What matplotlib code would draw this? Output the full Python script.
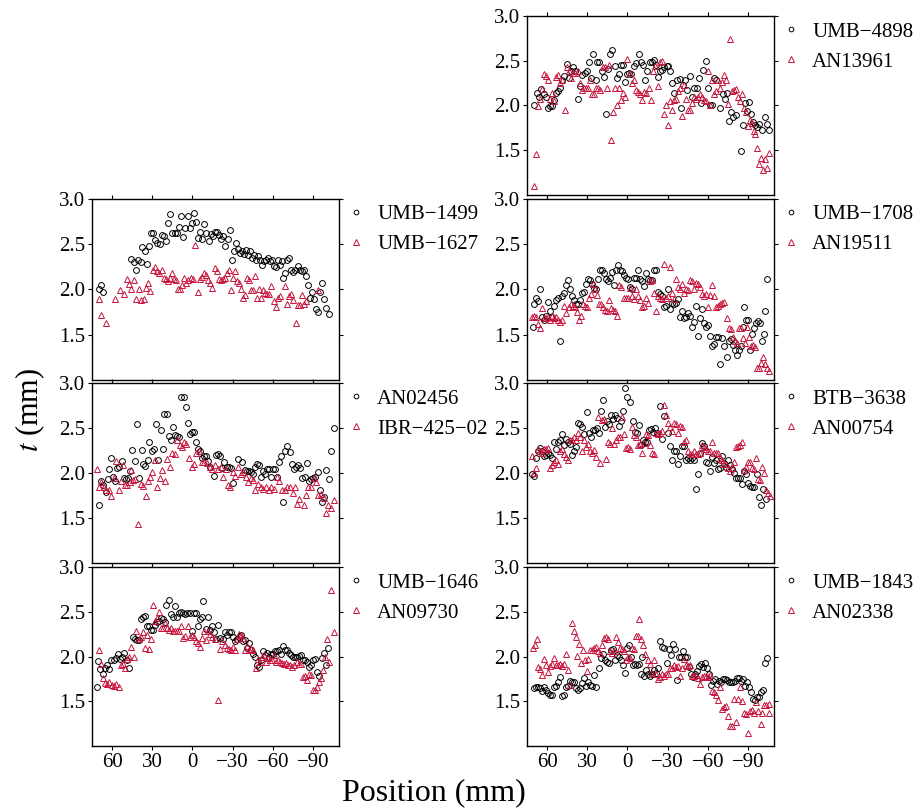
import numpy as np
import matplotlib.pyplot as plt
from matplotlib.ticker import FormatStrFormatter

plt.rcParams['font.family'] = ['Liberation Serif', 'DejaVu Serif']
plt.rcParams['mathtext.fontset'] = 'stix'
plt.rcParams['font.size'] = 15

red = '#c8143c'

# (position [mm], thickness t [mm])

umb1499 = [(70, 2.0), (68.25, 2.05), (66.5, 1.97), (45.5, 2.34), (43.75, 2.30), (42.25, 2.22), (40.5, 2.32),
           (38.75, 2.30), (37.5, 2.47), (35.75, 2.42), (34, 2.28), (32.5, 2.48), (31, 2.62), (29.25, 2.62),
           (27.75, 2.55), (26.25, 2.51), (24.5, 2.50), (23, 2.60), (21.25, 2.59), (19.75, 2.54), (18.25, 2.73),
           (16.5, 2.83), (15, 2.62), (13.25, 2.62), (11.75, 2.62), (10.25, 2.69), (8.5, 2.81), (7, 2.58),
           (5.25, 2.68), (3.5, 2.81), (2, 2.68), (0.5, 2.73), (-1.25, 2.84), (-2.75, 2.75), (-4.5, 2.57),
           (-6, 2.63), (-7.5, 2.56), (-9, 2.72), (-10.5, 2.62), (-12.25, 2.54), (-13.75, 2.61), (-15.25, 2.59),
           (-17, 2.63), (-18.5, 2.63), (-20, 2.60), (-21.5, 2.56), (-23, 2.59), (-24.5, 2.48), (-26.25, 2.56),
           (-27.75, 2.66), (-29.25, 2.32), (-30.75, 2.43), (-32.25, 2.51), (-33.75, 2.45), (-35.25, 2.40),
           (-36.75, 2.42), (-38.25, 2.39), (-39.75, 2.44), (-41.25, 2.38), (-42.75, 2.43), (-44.25, 2.35),
           (-45.75, 2.38), (-47.25, 2.33), (-48.75, 2.37), (-50.25, 2.32), (-51.75, 2.27), (-53.25, 2.31),
           (-54.75, 2.33), (-56.25, 2.35), (-57.75, 2.31), (-59.25, 2.33), (-60.75, 2.26), (-62.25, 2.25),
           (-63.75, 2.32), (-65.25, 2.27), (-66.75, 2.31), (-67.75, 2.13), (-69.25, 2.18), (-70.75, 2.32),
           (-72.25, 2.35), (-73.75, 2.21), (-75.25, 2.19), (-76.75, 2.22), (-78.5, 2.26), (-80, 2.21),
           (-81.5, 2.20), (-83.25, 2.21), (-84.75, 2.15), (-86.5, 2.05), (-88, 1.91), (-89.5, 1.97), (-91, 1.89),
           (-92, 1.78), (-93.5, 1.75), (-95, 1.97), (-96.5, 2.07), (-98, 1.89), (-100, 1.79), (-102, 1.73)]

umb1627 = [(69.5, 1.89), (68, 1.72), (64.5, 1.63), (57.5, 1.89), (54.25, 1.99), (50.75, 1.95), (49, 2.11),
           (47.25, 2.06), (45.75, 2.01), (43.75, 2.10), (42.25, 1.89), (40, 2.01), (38.5, 1.88), (36.5, 1.89),
           (34.5, 2.02), (33, 2.07), (31.5, 1.98), (29.75, 2.21), (28.25, 2.25), (26.5, 2.20), (24.75, 2.18),
           (23, 2.22), (21.5, 2.13), (20, 2.12), (18.25, 2.09), (16.75, 2.13), (15, 2.18), (13.5, 2.11),
           (12, 2.10), (11, 2.01), (9.5, 2.00), (8, 2.05), (6, 2.13), (4.5, 2.07), (3, 2.10), (1, 2.13),
           (-0.5, 2.12), (-2, 2.49), (-4, 1.97), (-6, 2.12), (-7.5, 2.14), (-9, 2.18), (-10.5, 2.16), (-12, 2.10),
           (-13.5, 2.07), (-15, 2.02), (-16.75, 2.24), (-18.25, 2.20), (-19.5, 2.12), (-21, 2.10), (-22.5, 2.11),
           (-24, 2.13), (-25.5, 2.18), (-27.5, 2.22), (-29, 1.99), (-30.5, 2.13), (-32, 2.20), (-33.5, 2.09),
           (-35, 2.07), (-36.5, 2.00), (-38, 1.91), (-39.5, 1.94), (-41, 2.13), (-42.5, 2.10), (-44, 1.99),
           (-45.5, 1.99), (-47, 2.15), (-48.5, 1.91), (-50, 2.00), (-51.5, 1.91), (-53, 1.99), (-54.5, 1.96),
           (-56, 1.95), (-57.5, 1.95), (-59, 2.04), (-61, 1.87), (-62.5, 1.81), (-64, 1.91), (-65.5, 1.93),
           (-69, 2.04), (-70.5, 1.84), (-72, 1.93), (-73.5, 1.95), (-75, 1.88), (-77.5, 1.63), (-79, 1.83),
           (-80.5, 1.83), (-82, 1.94), (-83.5, 1.84), (-85, 1.87), (-93.5, 1.99)]

an02456 = [(70, 1.64), (68.5, 1.91), (66.5, 1.87), (64.75, 1.79), (63.25, 1.93), (62, 2.04), (60.5, 2.17),
           (59, 1.96), (57.5, 1.91), (56, 2.06), (54.5, 2.07), (52.5, 2.13), (51, 1.95), (49.25, 1.93),
           (48, 1.95), (46.25, 2.02), (44.75, 2.26), (43, 2.13), (41.5, 2.54), (39.75, 1.95), (37.75, 2.26),
           (37, 2.10), (35.25, 2.08), (33.5, 2.15), (32.25, 2.35), (30.5, 2.24), (28.75, 2.27), (27.25, 2.55),
           (25.5, 2.15), (23.75, 2.48), (22.25, 2.27), (21, 2.66), (19.25, 2.66), (17.5, 2.41), (16, 2.37),
           (14.5, 2.51), (13, 2.42), (11.5, 2.41), (10, 2.40), (8.5, 2.84), (6.5, 2.85), (5, 2.73), (3.5, 2.56),
           (2, 2.43), (0.5, 2.46), (-1.25, 2.46), (-2.75, 2.35), (-4.25, 2.27), (-6, 2.24), (-7.5, 2.17),
           (-9, 2.19), (-10.5, 2.19), (-12, 2.13), (-13.5, 2.07), (-16, 1.97), (-17.5, 2.20), (-19.25, 2.21),
           (-20.75, 2.19), (-22.25, 2.06), (-23.75, 2.12), (-25.75, 2.07), (-27.5, 2.07), (-29, 2.06),
           (-30.5, 1.89), (-34.25, 2.16), (-37.25, 2.12), (-39, 2.03), (-40.5, 2.02), (-42, 2.02), (-43.5, 2.01),
           (-45, 1.99), (-46.5, 2.07), (-48, 2.10), (-49.5, 2.09), (-51, 1.96), (-52.5, 2.02), (-54, 1.99),
           (-55.5, 2.05), (-57, 2.04), (-58.5, 1.96), (-60, 2.04), (-61.5, 2.05), (-63, 1.96), (-64.5, 2.12),
           (-66, 2.19), (-68, 1.68), (-69.5, 2.25), (-71, 2.30), (-73, 2.23), (-74.5, 2.10), (-76, 2.04),
           (-77.5, 2.07), (-79, 2.09), (-80.5, 2.06), (-82, 1.95), (-84, 1.96), (-85.5, 2.11), (-87, 1.91),
           (-88.5, 1.93), (-90, 1.95), (-91.5, 1.96), (-93.5, 2.01), (-95, 1.81), (-96.5, 1.68), (-98, 1.73),
           (-100, 2.03), (-102, 1.93), (-103.75, 2.25), (-105.5, 2.50)]

ibr425 = [(71.25, 2.04), (69.75, 1.85), (68, 1.90), (66.25, 1.85), (64.5, 1.81), (62.5, 1.81), (60.5, 1.75),
          (58.75, 1.95), (57, 2.13), (55, 1.81), (53.25, 1.91), (51.5, 2.09), (50, 1.87), (48.5, 1.87),
          (46.75, 1.90), (45.5, 2.03), (44, 1.92), (42.5, 1.93), (40.5, 1.43), (38.75, 1.88), (37, 1.86),
          (35, 1.75), (33.5, 1.91), (31.75, 1.96), (30, 2.01), (28, 2.15), (26.25, 1.85), (24.5, 1.95),
          (22.5, 2.03), (20.5, 1.91), (18.75, 2.16), (16.75, 2.07), (15, 2.22), (13, 2.21), (11.25, 2.37),
          (9.5, 2.31), (8, 2.29), (6.5, 2.35), (4.5, 2.32), (2.5, 2.17), (0.5, 2.07), (-1.25, 2.10), (-3, 2.22),
          (-5, 2.25), (-7, 2.12), (-9, 2.12), (-11, 2.11), (-13, 2.07), (-15, 2.05), (-17, 2.09), (-19, 2.04),
          (-21, 2.07), (-23, 1.96), (-25, 2.04), (-26.75, 1.87), (-28.25, 1.84), (-30, 2.01), (-32, 1.97),
          (-34, 2.07), (-36, 1.99), (-38, 2.01), (-40, 1.96), (-41.5, 1.90), (-43.5, 1.95), (-45, 1.92),
          (-47, 1.81), (-49, 1.88), (-51, 1.85), (-53, 1.82), (-55, 1.85), (-57, 1.81), (-59, 1.85), (-61, 1.82),
          (-63, 1.96), (-65, 1.91), (-67, 1.81), (-69, 1.81), (-71, 1.84), (-73, 1.85), (-75, 1.78),
          (-76.5, 1.85), (-78, 1.66), (-79.5, 1.71), (-83, 1.64), (-85, 1.76), (-86.5, 1.84), (-88.5, 1.84),
          (-90.5, 1.94), (-92.5, 1.90), (-94, 1.76), (-96, 1.77), (-98, 1.72), (-100, 1.56), (-101.5, 1.65),
          (-103.5, 1.61), (-105.5, 1.70)]

umb1646 = [(71.5, 1.66), (70.25, 1.95), (68.75, 1.86), (66.75, 1.80), (65, 1.87), (63.5, 1.91), (62, 1.86),
           (60.5, 1.96), (58.75, 1.96), (57, 1.98), (55.5, 2.03), (54, 1.97), (52.5, 2.00), (50.75, 2.04),
           (49, 1.96), (47.5, 1.87), (44.5, 2.22), (43, 2.19), (41.5, 2.18), (40, 2.18), (38.5, 2.42), (37, 2.44),
           (35.5, 2.45), (34, 2.34), (32.5, 2.34), (31, 2.30), (29.5, 2.30), (28, 2.35), (26.5, 2.39), (25, 2.40),
           (23.5, 2.43), (22, 2.42), (20.5, 2.39), (19.5, 2.58), (17.75, 2.63), (16.25, 2.47), (14.75, 2.44),
           (13, 2.56), (11.5, 2.44), (10, 2.49), (8.5, 2.50), (7, 2.49), (5.5, 2.48), (3.75, 2.49), (2, 2.49),
           (0, 2.28), (-1.25, 2.49), (-2.75, 2.49), (-4, 2.34), (-5.5, 2.42), (-7, 2.44), (-8.25, 2.62),
           (-10, 2.31), (-11.5, 2.44), (-13, 2.30), (-14.5, 2.34), (-16, 2.27), (-17.5, 2.19), (-19, 2.35),
           (-20.5, 2.21), (-22.5, 2.19), (-24, 2.27), (-25.5, 2.24), (-27, 2.27), (-28.5, 2.27), (-30, 2.22),
           (-31.5, 2.17), (-33, 2.19), (-34.5, 2.22), (-36, 2.24), (-37.5, 2.17), (-39, 2.18), (-40.5, 2.10),
           (-42, 2.15), (-43.5, 2.07), (-45, 2.03), (-46.5, 2.00), (-48, 1.90), (-49.5, 1.88), (-51, 1.96),
           (-52.5, 2.06), (-54, 2.02), (-55.5, 2.04), (-57, 2.00), (-58.5, 2.03), (-60, 2.03), (-61.5, 2.06),
           (-63, 2.06), (-64.5, 2.07), (-66, 2.03), (-67.5, 2.12), (-69, 2.07), (-70.5, 2.07), (-72, 2.04),
           (-73.5, 2.02), (-75, 1.99), (-76.5, 2.00), (-78, 2.00), (-79.5, 2.01), (-81, 2.02), (-82.5, 1.96),
           (-84, 1.96), (-85.5, 1.94), (-87, 1.88), (-88.5, 1.91), (-90, 1.96), (-91.5, 1.97), (-93, 1.83),
           (-94.5, 1.78), (-96.5, 1.98), (-98, 2.04), (-99.5, 1.90), (-101, 2.09)]

an09730 = [(70, 2.07), (68.5, 1.92), (67, 1.76), (65.5, 1.70), (63.75, 1.69), (62, 1.72), (60, 1.68),
           (58.5, 1.67), (57, 1.69), (55, 1.66), (53.5, 1.91), (52, 1.92), (50.25, 1.87), (48.75, 1.97),
           (47, 1.99), (45.5, 2.11), (43.75, 2.00), (42, 2.29), (40, 2.19), (38.5, 2.22), (37, 2.27), (35.5, 2.10),
           (34, 2.24), (32.5, 2.08), (31, 2.19), (29.75, 2.57), (28, 2.40), (26.5, 2.43), (25, 2.50), (23.5, 2.32),
           (22, 2.32), (20.5, 2.37), (19, 2.32), (17.5, 2.30), (16, 2.32), (14.5, 2.29), (13, 2.28), (11.5, 2.28),
           (10, 2.29), (8.5, 2.34), (7, 2.21), (5.5, 2.23), (3.5, 2.34), (2, 2.22), (0.5, 2.24), (-1, 2.22),
           (-2.5, 2.17), (-4, 2.15), (-5.5, 2.11), (-7, 2.21), (-8.5, 2.28), (-10, 2.18), (-11.5, 2.28),
           (-13.5, 2.25), (-15, 2.22), (-17, 2.19), (-19, 1.51), (-20.5, 2.08), (-22, 2.17), (-24, 2.13),
           (-25.5, 2.10), (-27, 2.08), (-28.5, 2.07), (-30, 2.11), (-31.5, 2.07), (-33.5, 2.19), (-35, 2.25),
           (-36.5, 2.24), (-38, 2.21), (-39.5, 2.07), (-41, 2.12), (-42.5, 2.07), (-44, 2.08), (-45.5, 2.07),
           (-47.5, 1.87), (-49, 1.97), (-50.5, 1.94), (-52, 1.99), (-53.5, 2.02), (-55, 1.94), (-56.5, 1.98),
           (-58, 1.96), (-59.5, 1.96), (-61, 2.02), (-62.5, 1.94), (-64, 1.96), (-65.5, 1.94), (-67, 1.93),
           (-68.5, 1.92), (-70, 1.93), (-71.5, 1.91), (-73, 1.90), (-74.5, 1.88), (-76, 1.90), (-78, 1.94),
           (-79.5, 1.92), (-81, 1.92), (-82.5, 1.77), (-84, 1.78), (-85.5, 1.74), (-87, 1.81), (-88.5, 1.79),
           (-90, 1.63), (-91.5, 1.63), (-93, 1.66), (-94.5, 1.71), (-96, 1.76), (-97.5, 1.85), (-99, 1.99),
           (-100.5, 2.19), (-102, 1.94), (-103.75, 2.74), (-105.5, 2.27)]

umb4898 = [(69.5, 2.00), (67.5, 2.14), (66, 2.10), (64.5, 2.18), (62.5, 2.13), (61, 2.09), (59.5, 1.97),
           (58, 1.99), (56.5, 1.99), (55, 2.06), (53.5, 2.14), (52, 2.16), (50.5, 2.20), (48.5, 2.28), (47, 2.33),
           (45, 2.46), (43.5, 2.31), (42, 2.38), (40.5, 2.43), (39, 2.39), (37, 2.07), (35.5, 2.22), (34, 2.34),
           (32, 2.36), (30.5, 2.39), (28.75, 2.49), (27, 2.31), (25.5, 2.58), (23.25, 2.28), (22.5, 2.48),
           (21, 2.48), (19, 2.39), (17.5, 2.32), (16, 1.90), (14.5, 2.41), (13, 2.57), (11.25, 2.62), (9.5, 2.44),
           (8, 2.31), (6.5, 2.35), (5, 2.45), (3.25, 2.45), (1.75, 2.26), (0, 2.35), (-1.5, 2.36), (-3, 2.35),
           (-5, 2.44), (-6.5, 2.47), (-8.5, 2.57), (-10, 2.49), (-11.5, 2.45), (-13, 2.28), (-14.5, 2.39),
           (-16.5, 2.48), (-18, 2.49), (-19.5, 2.51), (-21.5, 2.45), (-23, 2.32), (-24.5, 2.39), (-26, 2.40),
           (-27.5, 2.43), (-29.5, 2.44), (-30.5, 2.44), (-32, 2.39), (-33.5, 2.25), (-35, 2.14), (-37, 2.28),
           (-39, 2.30), (-40, 1.97), (-41.5, 2.23), (-43, 2.28), (-44.5, 2.17), (-46.5, 2.33), (-48.5, 2.10),
           (-50, 2.19), (-52, 2.19), (-53.5, 2.31), (-55, 2.03), (-56.5, 2.40), (-58.5, 2.50), (-60, 2.20),
           (-61.5, 2.01), (-63, 2.01), (-65, 2.31), (-66.5, 2.28), (-69.5, 1.97), (-71.5, 2.13), (-73, 2.07),
           (-74.5, 2.14), (-76, 1.83), (-77.5, 1.93), (-79, 1.87), (-81, 1.89), (-84.5, 1.49), (-86, 1.78),
           (-87.5, 2.03), (-89.5, 1.94), (-91, 2.04), (-92.5, 1.91), (-94, 1.81), (-95.5, 1.78), (-97, 1.76),
           (-98.5, 1.79), (-100.5, 1.73), (-102.5, 1.87), (-104, 1.79), (-106, 1.73)]

an13961 = [(69.5, 1.10), (68, 1.46), (66.5, 1.99), (65, 2.07), (63.5, 2.18), (62, 2.35), (60.5, 2.33),
           (59, 2.28), (57.5, 2.07), (56, 2.14), (54.5, 2.05), (53, 2.32), (51.5, 2.34), (50, 2.25), (48.5, 2.28),
           (46.5, 1.95), (45, 2.43), (43.5, 2.39), (42, 2.31), (40.5, 2.36), (39, 2.36), (37, 2.38), (35.5, 2.25),
           (34, 2.17), (32.5, 2.20), (31, 2.20), (29.5, 2.20), (28, 2.29), (26.5, 2.13), (25, 2.13), (23.5, 2.20),
           (22, 2.20), (20.5, 2.17), (18.5, 2.43), (17, 2.43), (15.5, 2.20), (14, 2.45), (12.5, 1.61), (11, 1.93),
           (9.5, 2.20), (8, 2.00), (6.5, 2.20), (5, 2.06), (3, 2.14), (1.5, 2.10), (0, 2.52), (-2, 2.36),
           (-3.5, 2.25), (-5, 2.28), (-6.5, 2.17), (-8, 2.15), (-9.5, 2.13), (-11, 2.06), (-12.5, 2.15),
           (-14, 2.14), (-16, 2.20), (-17.5, 2.06), (-19, 2.39), (-20.5, 2.44), (-22.5, 2.22), (-24, 2.48),
           (-25.5, 2.50), (-27, 1.90), (-28.5, 2.00), (-30, 1.78), (-31.5, 2.05), (-33, 1.95), (-34.5, 2.06),
           (-36, 2.07), (-37.5, 2.16), (-39, 2.20), (-40.5, 1.88), (-42, 2.23), (-43.5, 2.07), (-45, 1.95),
           (-46.5, 1.95), (-48, 2.03), (-49.5, 2.10), (-51, 2.07), (-52.5, 2.10), (-54, 2.13), (-55.5, 2.10),
           (-57, 2.06), (-58.5, 2.05), (-60, 2.38), (-61.5, 2.00), (-63, 2.29), (-64.5, 2.13), (-66, 2.16),
           (-67.5, 2.28), (-69, 2.20), (-70.5, 2.26), (-72, 2.34), (-73.5, 2.28), (-75, 2.02), (-76.5, 2.74),
           (-78, 2.16), (-79.5, 2.17), (-81, 2.18), (-82.5, 2.10), (-84, 2.05), (-85.5, 2.13), (-87, 1.97),
           (-88.5, 1.93), (-90, 1.77), (-91.5, 1.84), (-93, 1.80), (-94.5, 1.72), (-95.5, 1.68), (-96.5, 1.52),
           (-98, 1.35), (-99.5, 1.41), (-101, 1.28), (-102.5, 1.40), (-104, 1.30), (-106, 1.47)]

umb1708 = [(70.5, 1.59), (69.5, 1.84), (68, 1.91), (66.5, 1.87), (65, 2.00), (63.5, 1.70), (62, 1.66),
           (60.5, 1.71), (59, 1.86), (57.5, 1.76), (56, 1.70), (54.5, 1.82), (53, 1.88), (51.5, 1.91),
           (50.5, 1.43), (49, 1.93), (47.5, 1.96), (46, 2.05), (44.5, 2.10), (43, 2.00), (41.5, 1.93), (40, 1.88),
           (38.5, 1.84), (37, 1.84), (35.5, 1.88), (34, 1.96), (32.5, 1.97), (31, 2.06), (29.5, 2.11), (28, 2.10),
           (26.5, 2.06), (25, 2.02), (23.5, 2.00), (22, 2.11), (20.5, 2.21), (19, 2.22), (17.5, 2.18), (16, 2.11),
           (14.5, 2.09), (13, 2.13), (11.5, 2.19), (10, 2.05), (8.5, 2.22), (7, 2.27), (5.5, 2.22), (4, 2.20),
           (2.5, 2.16), (1, 2.13), (-0.5, 2.11), (-2, 2.03), (-3.5, 2.00), (-5, 2.13), (-6.5, 2.13), (-8, 2.21),
           (-9.5, 2.11), (-11, 2.09), (-12.5, 2.04), (-14, 2.18), (-15.5, 2.12), (-17, 2.10), (-18.5, 2.10),
           (-20, 2.22), (-21.5, 2.22), (-23, 1.97), (-24.5, 1.95), (-26, 1.93), (-27.5, 1.81), (-29, 1.82),
           (-30.5, 2.00), (-32, 1.78), (-33.5, 1.85), (-35, 1.84), (-36.5, 1.85), (-38, 1.90), (-39.5, 1.70),
           (-41, 1.76), (-42.5, 1.68), (-44, 1.70), (-45.5, 1.74), (-47, 1.71), (-48, 1.59), (-49.5, 1.64),
           (-51, 1.82), (-52.5, 1.49), (-54, 1.68), (-55.5, 1.78), (-57, 1.63), (-58.5, 1.59), (-60.5, 1.61),
           (-62, 1.49), (-63.5, 1.37), (-65, 1.40), (-66.5, 1.47), (-68, 1.47), (-69.5, 1.18), (-71, 1.46),
           (-72.5, 1.38), (-74, 1.25), (-75.5, 1.43), (-77, 1.45), (-78.5, 1.39), (-80, 1.33), (-81.5, 1.28),
           (-83, 1.33), (-84.5, 1.38), (-86, 1.58), (-87, 1.81), (-88.5, 1.66), (-90, 1.66), (-91.5, 1.33),
           (-93, 1.51), (-94.5, 1.57), (-96, 1.63), (-97.5, 1.65), (-99, 1.63), (-100.5, 1.43), (-102, 1.51),
           (-103, 1.76), (-104, 2.11)]

an19511 = [(71, 1.70), (69.5, 1.71), (68, 1.70), (66.5, 1.62), (65, 1.57), (63.5, 1.79), (62, 1.69),
           (60.5, 1.69), (59, 1.70), (57.5, 1.66), (56, 1.71), (54.5, 1.68), (53, 1.70), (51.5, 1.66), (50, 1.64),
           (48.5, 1.66), (47, 1.82), (45.5, 1.74), (44, 1.81), (42.5, 1.84), (41, 1.82), (39.5, 1.81), (38, 1.75),
           (36.5, 1.66), (35, 1.71), (33.5, 1.84), (32, 1.82), (30.5, 1.81), (29, 1.91), (27.5, 1.95), (26, 2.06),
           (24.5, 2.00), (23, 1.94), (21.5, 1.84), (20, 1.84), (18.5, 1.81), (17, 1.77), (15.5, 1.76), (14, 1.88),
           (12.5, 1.79), (11, 1.77), (9.5, 1.76), (8, 1.71), (6, 2.05), (4.5, 2.03), (2.5, 1.91), (1, 1.91),
           (-0.5, 1.91), (-2, 2.02), (-3.5, 1.93), (-5, 1.90), (-6.5, 2.00), (-8, 1.93), (-9.5, 1.88), (-11, 1.81),
           (-12.5, 1.82), (-14, 1.91), (-15.5, 1.85), (-17, 2.09), (-18.5, 2.10), (-20, 1.96), (-21.5, 1.76),
           (-23, 1.93), (-24.5, 1.91), (-26, 1.89), (-27.5, 2.28), (-29, 1.91), (-30.5, 1.93), (-32, 2.25),
           (-33.5, 1.96), (-35, 1.90), (-36.5, 2.12), (-38, 2.03), (-39.5, 2.00), (-41, 2.06), (-42.5, 1.96),
           (-44, 2.00), (-45.5, 1.99), (-47, 2.10), (-48.5, 2.09), (-50, 2.00), (-51.5, 2.07), (-53, 2.06),
           (-54.5, 2.03), (-56, 1.95), (-57.5, 1.93), (-59, 1.95), (-60.5, 1.81), (-62, 1.94), (-63.5, 2.05),
           (-65, 1.93), (-66.5, 1.81), (-68, 1.82), (-69.5, 1.84), (-71, 1.85), (-72.5, 1.86), (-74, 1.68),
           (-75.5, 1.57), (-77, 1.56), (-78.5, 1.47), (-80, 1.43), (-81.5, 1.41), (-83, 1.57), (-84.5, 1.57),
           (-86, 1.46), (-87.5, 1.41), (-89, 1.59), (-90.5, 1.47), (-92, 1.38), (-93.5, 1.39), (-95, 1.36),
           (-96.5, 1.13), (-98, 1.13), (-99.5, 1.19), (-101, 1.25), (-102.5, 1.18), (-104, 1.13), (-105.5, 1.10)]

btb3638 = [(71.5, 1.99), (70, 1.97), (68.5, 2.17), (67, 2.25), (65.5, 2.28), (64, 2.24), (62.5, 2.19),
           (61, 2.20), (59.5, 2.22), (58, 2.20), (56.5, 2.17), (55, 2.35), (53.5, 2.27), (52, 2.35), (50.5, 2.37),
           (49, 2.43), (47.5, 2.31), (46, 2.38), (44.5, 2.35), (43, 2.32), (41.5, 2.20), (40, 2.24), (38.5, 2.29),
           (37, 2.56), (35.5, 2.54), (34, 2.51), (32.5, 2.43), (30.5, 2.68), (29, 2.44), (27.5, 2.40), (26, 2.48),
           (24.5, 2.48), (23, 2.50), (21.5, 2.44), (20, 2.69), (18.5, 2.81), (17, 2.51), (15.5, 2.58), (14, 2.55),
           (12.5, 2.65), (11, 2.60), (9.5, 2.65), (8, 2.61), (6.5, 2.52), (5, 2.58), (3.5, 2.69), (1.5, 2.94),
           (0, 2.84), (-2, 2.79), (-4, 2.58), (-5.5, 2.46), (-7, 2.44), (-8.5, 2.53), (-10, 2.31), (-11.5, 2.37),
           (-13, 2.34), (-14.5, 2.35), (-16, 2.48), (-17.5, 2.49), (-19, 2.46), (-20.5, 2.50), (-22, 2.45),
           (-24, 2.75), (-25.5, 2.38), (-27.5, 2.63), (-30, 2.45), (-31.5, 2.30), (-33, 2.14), (-34.5, 2.25),
           (-36, 2.25), (-37.5, 2.10), (-39, 2.19), (-40.5, 2.30), (-42, 2.30), (-43.5, 2.15), (-45, 2.17),
           (-46.5, 2.15), (-48, 2.17), (-49.5, 2.14), (-51, 1.82), (-52.5, 1.99), (-54, 2.22), (-55.5, 2.33),
           (-57, 2.30), (-58.5, 2.12), (-60, 2.11), (-61.5, 2.02), (-63, 2.18), (-64.5, 2.11), (-66, 2.15),
           (-67.5, 2.05), (-69, 2.06), (-70.5, 2.19), (-72, 2.11), (-73.5, 2.07), (-75, 2.14), (-76.5, 2.09),
           (-78, 2.05), (-79.5, 2.00), (-81, 1.95), (-82.5, 1.94), (-84, 1.95), (-85.5, 1.88), (-87, 2.02),
           (-88.5, 1.99), (-90, 1.89), (-91.5, 1.86), (-93, 1.85), (-94.5, 1.85), (-96.5, 1.99), (-98, 1.73),
           (-99.5, 1.64), (-101.5, 1.82), (-103.5, 1.71)]

an00754 = [(71.5, 2.19), (70, 2.00), (68.5, 2.06), (67, 2.27), (65.5, 2.25), (64, 2.22), (62.5, 2.27),
           (61, 2.27), (59.5, 2.28), (58, 2.06), (56.5, 2.09), (55, 2.12), (53.5, 2.15), (52, 2.10), (50.5, 2.24),
           (49, 2.27), (47.5, 2.21), (46, 2.18), (44.5, 2.14), (43, 2.37), (41.5, 2.37), (40, 2.40), (38.5, 2.37),
           (37, 2.45), (35.5, 2.40), (34, 2.25), (32.5, 2.37), (31, 2.29), (29.5, 2.32), (28, 2.24), (26.5, 2.22),
           (25, 2.26), (23.5, 2.18), (22, 2.62), (20.5, 2.11), (19, 2.59), (17.5, 2.60), (16, 2.16), (14.5, 2.34),
           (13, 2.32), (11.5, 2.50), (10, 2.32), (8.5, 2.37), (7, 2.40), (5.5, 2.40), (4, 2.62), (2.5, 2.43),
           (1, 2.28), (-0.5, 2.29), (-2, 2.27), (-3.5, 2.51), (-5, 2.42), (-6.5, 2.40), (-8, 2.31), (-9.5, 2.32),
           (-11, 2.22), (-12.5, 2.33), (-14, 2.43), (-15.5, 2.42), (-17, 2.31), (-18.5, 2.22), (-20, 2.21),
           (-21.5, 2.45), (-23, 2.43), (-24.5, 2.44), (-26, 2.47), (-27.5, 2.76), (-29, 2.65), (-30, 2.56),
           (-31.5, 2.51), (-33, 2.47), (-34.5, 2.56), (-36, 2.54), (-37.5, 2.45), (-39, 2.52), (-40.5, 2.51),
           (-42, 2.34), (-43.5, 2.37), (-45, 2.24), (-46.5, 2.21), (-48, 2.21), (-49.5, 2.24), (-51, 2.21),
           (-52.5, 2.21), (-54, 2.22), (-55.5, 2.31), (-57, 2.29), (-58.5, 2.27), (-60, 2.25), (-61.5, 2.24),
           (-63, 2.35), (-64.5, 2.22), (-66, 2.22), (-67.5, 2.22), (-69, 2.17), (-70.5, 2.14), (-72, 2.10),
           (-73.5, 2.10), (-75, 2.06), (-76.5, 2.02), (-78, 2.06), (-79.5, 2.12), (-81, 2.29), (-82.5, 2.30),
           (-84, 2.31), (-85.5, 2.35), (-87, 2.03), (-88.5, 2.07), (-90, 2.12), (-91.5, 2.12), (-93, 2.06),
           (-94.5, 2.04), (-96, 2.17), (-97.5, 1.93), (-99, 1.92), (-100.5, 2.07), (-102, 2.00), (-103.5, 1.81),
           (-105, 1.78), (-106.5, 1.75)]

umb1843 = [(69.5, 1.65), (68, 1.66), (66.5, 1.66), (65, 1.65), (63.5, 1.62), (62, 1.66), (60.5, 1.63),
           (59, 1.59), (57.5, 1.57), (56, 1.57), (54.5, 1.66), (53, 1.67), (51.5, 1.72), (50, 1.77), (49, 1.56),
           (47.5, 1.57), (46, 1.66), (44.5, 1.67), (43, 1.73), (41.5, 1.72), (40, 1.71), (38.5, 1.65), (37, 1.63),
           (35.5, 1.65), (34, 1.70), (32.5, 1.76), (31, 1.67), (29.5, 1.71), (28, 1.68), (26.5, 1.67), (25, 1.79),
           (23.5, 1.66), (21.5, 1.87), (20, 1.98), (18.5, 2.03), (17, 1.96), (15.5, 1.94), (14, 1.93), (12.5, 2.07),
           (11, 2.08), (9.5, 1.96), (8, 2.02), (6.5, 2.00), (5, 1.96), (3.5, 1.91), (1.5, 1.82), (0.5, 2.10),
           (-1, 2.13), (-2.5, 1.99), (-4, 1.90), (-5.5, 1.92), (-7, 1.90), (-8.5, 1.92), (-10, 1.81), (-11, 1.99),
           (-12.5, 1.78), (-14, 1.85), (-15.5, 1.81), (-17, 1.78), (-18.5, 1.81), (-20, 1.85), (-21.5, 1.82),
           (-23, 1.87), (-24.5, 2.17), (-26, 2.11), (-27.5, 2.10), (-29.5, 1.93), (-31, 2.08), (-32.5, 2.02),
           (-34, 2.14), (-35.5, 2.08), (-37, 1.74), (-38.5, 1.99), (-40, 2.00), (-41.5, 2.06), (-43, 2.00),
           (-44.5, 1.99), (-46, 1.88), (-47.5, 1.81), (-49, 1.77), (-50.5, 1.81), (-52, 1.84), (-53.5, 1.89),
           (-55, 1.92), (-56.5, 1.88), (-58, 1.93), (-59.5, 1.87), (-61, 1.81), (-62.5, 1.68), (-64, 1.73),
           (-65.5, 1.75), (-67, 1.69), (-68.5, 1.73), (-70, 1.71), (-71.5, 1.75), (-73, 1.75), (-74.5, 1.74),
           (-76, 1.71), (-77.5, 1.72), (-79, 1.71), (-80.5, 1.73), (-82, 1.76), (-83.5, 1.76), (-85, 1.73),
           (-86.5, 1.75), (-88, 1.67), (-89.5, 1.72), (-91, 1.66), (-92.5, 1.60), (-94, 1.53), (-95.5, 1.51),
           (-97, 1.55), (-98.5, 1.55), (-100, 1.60), (-101.5, 1.63), (-102.5, 1.93), (-104, 1.98)]

an02338 = [(70.5, 2.09), (69, 2.13), (67.5, 2.19), (66.5, 1.88), (65, 1.86), (63.5, 1.79), (62, 1.97),
           (60.5, 1.90), (59, 1.83), (57.5, 1.89), (56, 1.92), (54.5, 1.98), (53, 1.91), (51.5, 1.90), (50, 1.92),
           (48.5, 1.89), (47, 1.92), (45.5, 2.03), (44.5, 1.85), (43, 1.68), (41.5, 2.37), (40, 2.28), (38.5, 2.22),
           (37.5, 2.01), (36, 2.14), (35, 1.93), (33.5, 2.07), (32, 1.96), (30.5, 1.84), (29.5, 1.97), (28, 2.07),
           (26.5, 2.07), (25, 2.09), (23.5, 2.11), (22, 2.06), (20.5, 2.04), (19, 2.13), (17.5, 2.21), (16, 2.22),
           (14.5, 2.19), (13, 2.06), (11.5, 2.04), (10, 2.06), (8.5, 2.22), (7, 2.16), (5.5, 2.10), (4, 2.08),
           (2.5, 2.06), (1, 1.96), (-0.5, 1.99), (-2, 1.98), (-3.5, 2.10), (-5, 2.08), (-6.5, 2.23), (-8, 2.23),
           (-9, 2.42), (-10.5, 2.19), (-12, 2.13), (-13.5, 2.03), (-15, 1.96), (-16.5, 1.92), (-18, 1.82),
           (-19.5, 1.96), (-21.5, 1.81), (-22.5, 1.75), (-24, 1.77), (-25.5, 1.81), (-27, 1.78), (-28.5, 1.81),
           (-30, 1.81), (-31.5, 1.87), (-33, 1.87), (-34.5, 1.90), (-36, 1.88), (-37.5, 1.89), (-39, 1.78),
           (-40.5, 1.87), (-42, 1.97), (-43.5, 1.91), (-45, 1.89), (-46.5, 1.90), (-48, 1.78), (-49.5, 1.78),
           (-51, 1.79), (-52.5, 1.76), (-54, 1.69), (-55.5, 1.77), (-57, 1.78), (-58.5, 1.78), (-60, 1.77),
           (-61.5, 1.79), (-63, 1.62), (-64.5, 1.60), (-66, 1.57), (-67.5, 1.51), (-69, 1.66), (-70.5, 1.41),
           (-72, 1.44), (-73.5, 1.45), (-75, 1.33), (-76.5, 1.22), (-78, 1.22), (-79.5, 1.53), (-81, 1.27),
           (-82.5, 1.53), (-84, 1.66), (-85.5, 1.50), (-87, 1.37), (-88.5, 1.36), (-90, 1.15), (-91.5, 1.39),
           (-93, 1.40), (-94.5, 1.37), (-96, 1.49), (-97.5, 1.39), (-99.5, 1.25), (-100.5, 1.37), (-102, 1.46),
           (-103.5, 1.46), (-105.5, 1.47), (-106, 1.37)]

# column, row, black series label/data, red series label/data
panels = [
    (1, 0, "UMB\u22124898", umb4898, "AN13961", an13961),
    (0, 1, "UMB\u22121499", umb1499, "UMB\u22121627", umb1627),
    (1, 1, "UMB\u22121708", umb1708, "AN19511", an19511),
    (0, 2, "AN02456", an02456, "IBR\u2212425\u221202", ibr425),
    (1, 2, "BTB\u22123638", btb3638, "AN00754", an00754),
    (0, 3, "UMB\u22121646", umb1646, "AN09730", an09730),
    (1, 3, "UMB\u22121843", umb1843, "AN02338", an02338),
]

col_left = [0.1003, 0.5747]
col_width = 0.2694
row_box = [(0.7593, 0.2210), (0.5309, 0.2235), (0.3049, 0.2222), (0.0790, 0.2210)]

fig = plt.figure(figsize=(9.17, 8.10), dpi=100)

for col, row, lab_a, dat_a, lab_b, dat_b in panels:
    bottom, height = row_box[row]
    ax = fig.add_axes([col_left[col], bottom, col_width, height])

    a = np.array(dat_a)
    b = np.array(dat_b)
    ax.plot(a[:, 0], a[:, 1], linestyle='none', marker='o', ms=4.2, mfc='none', mec='black', mew=0.7, label=lab_a)
    ax.plot(b[:, 0], b[:, 1], linestyle='none', marker='^', ms=4.6, mfc='none', mec=red, mew=0.7, label=lab_b)

    ax.set_xlim(75, -109.5)
    ax.set_ylim(1.0, 3.0)
    ax.set_xticks([60, 30, 0, -30, -60, -90])
    ax.set_yticks([1.5, 2.0, 2.5, 3.0])
    ax.yaxis.set_major_formatter(FormatStrFormatter('%.1f'))
    ax.tick_params(direction='out', length=3, width=0.8, top=True, right=True,
                   labelbottom=(row == 3), labelsize=15, pad=2)
    for sp in ax.spines.values():
        sp.set_linewidth(1.0)

    ax.legend(loc='upper left', bbox_to_anchor=(1.0, 1.013), frameon=False, fontsize=15,
              handlelength=0.8, handletextpad=0.63, labelspacing=0.5, borderaxespad=0.0,
              markerscale=0.8)

fig.text(0.473, 0.021, "Position (mm)", ha='center', va='center', fontsize=23)
fig.text(0.033, 0.494, "$t$ (mm)", ha='center', va='center', rotation=90, fontsize=22)

fig.savefig("out.png", dpi=100)
